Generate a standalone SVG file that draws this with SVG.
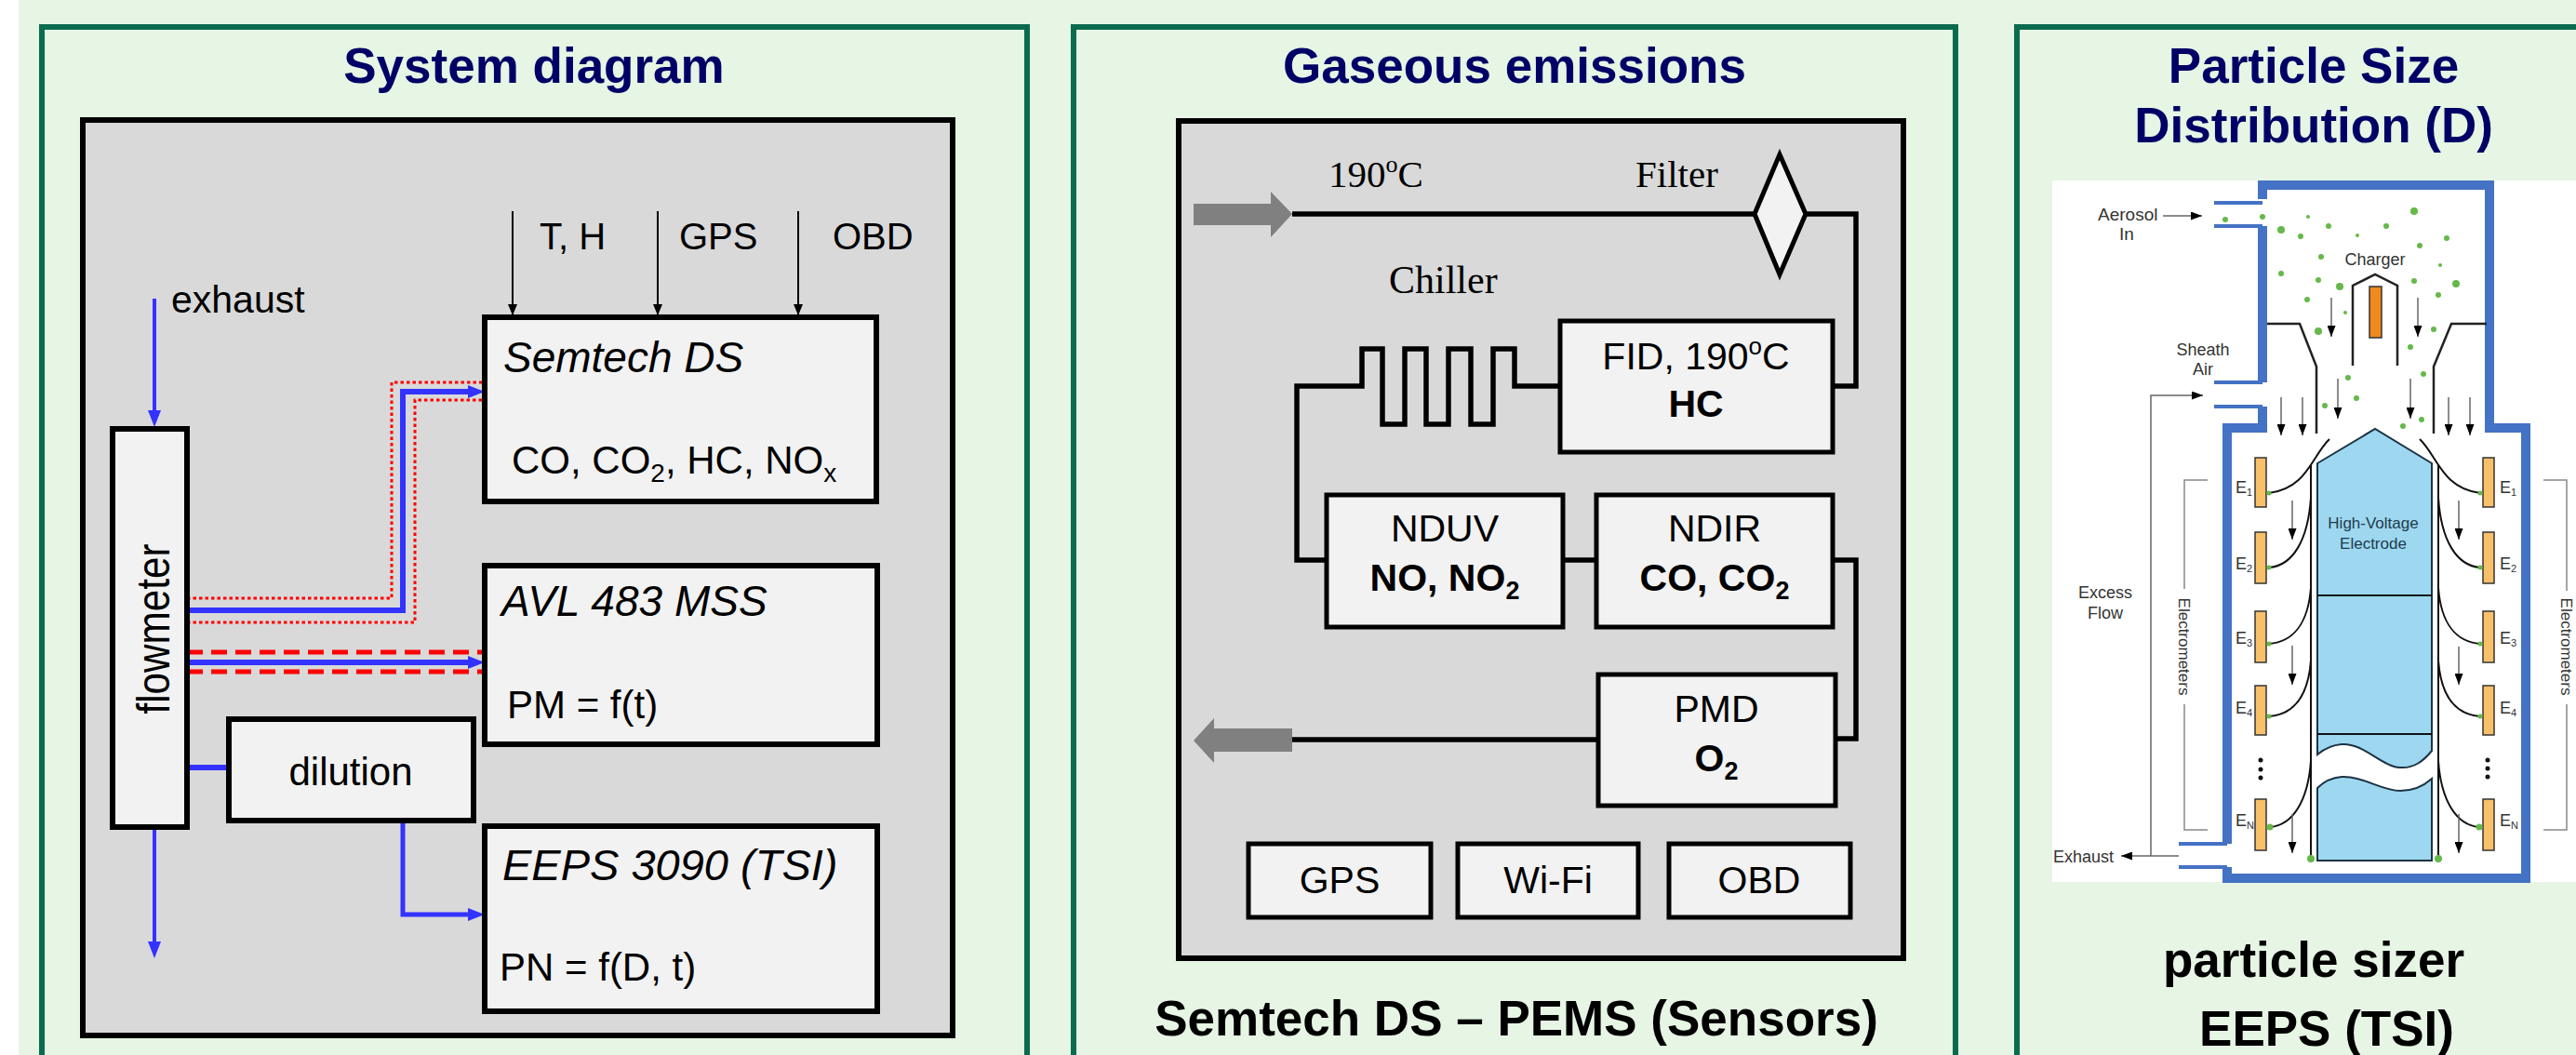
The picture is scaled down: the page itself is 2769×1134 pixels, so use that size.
<svg xmlns="http://www.w3.org/2000/svg" width="2769" height="1134" viewBox="0 0 2769 1134">
<defs>
<style>
.panel{fill:#E6F5E4;stroke:#0B6B4F;stroke-width:6}
.title{font-family:"Liberation Sans",Arial,sans-serif;font-weight:bold;font-size:53px;fill:#000066;text-anchor:middle}
.caption{font-family:"Liberation Sans",Arial,sans-serif;font-weight:bold;font-size:53px;fill:#000;text-anchor:middle}
.gbox{fill:#D9D9D9;stroke:#000;stroke-width:6}
.box{fill:#F2F2F2;stroke:#000;stroke-width:6}
.box5{fill:#F2F2F2;stroke:#000;stroke-width:5}
.s{font-family:"Liberation Sans",Arial,sans-serif;fill:#000}
.s42{font-size:42px}
.s41{font-size:41px}
.s40{font-size:40px}
.it{font-style:italic;font-size:46px}
.b{font-weight:bold}
.mid{text-anchor:middle}
.serif{font-family:"Liberation Serif","Times New Roman",serif;font-size:41px;fill:#000}
.bl6{stroke:#3333FF;stroke-width:6;fill:none}
.bl4{stroke:#3333FF;stroke-width:4;fill:none}
.dot{stroke:#FF0000;stroke-width:3;stroke-dasharray:3.5 3;fill:none}
.dash{stroke:#FF0000;stroke-width:5;stroke-dasharray:17 9;fill:none}
.thin{stroke:#000;stroke-width:2;fill:none}
.flow{stroke:#000;stroke-width:5.5;fill:none}
.garrow{fill:#808080}
.wall{stroke:#4472C4;stroke-width:10;fill:none}
.inlet{stroke:#4472C4;stroke-width:4;fill:none}
.fl{stroke:#222;stroke-width:2.5;fill:none}
.ga{stroke:#666;stroke-width:1.5;fill:none}
.tr{stroke:#111;stroke-width:2;fill:none}
.brk{stroke:#888;stroke-width:1.5;fill:none}
.pd{fill:#66B84A}
.el{fill:#F9C06A;stroke:#333;stroke-width:1.5}
.hv{fill:#9DD8F0;stroke:#1D3345;stroke-width:2}
.lab{font-family:"Liberation Sans",Arial,sans-serif;font-size:18px;fill:#333}
.sub{font-size:11px}
</style>
<marker id="mk" markerUnits="userSpaceOnUse" markerWidth="12" markerHeight="10" refX="12" refY="5" orient="auto"><path d="M0,0 L12,5 L0,10 z" fill="#000"/></marker>
<marker id="mb" markerUnits="userSpaceOnUse" markerWidth="18" markerHeight="14" refX="10" refY="7" orient="auto"><path d="M0,0 L18,7 L0,14 z" fill="#3333FF"/></marker>
<marker id="ms" markerUnits="userSpaceOnUse" markerWidth="12" markerHeight="9" refX="12" refY="4.5" orient="auto"><path d="M0,0 L12,4.5 L0,9 z" fill="#000"/></marker>
</defs>

<rect x="0" y="0" width="2769" height="1134" fill="#E6F5E4"/>
<rect x="0" y="0" width="20" height="1134" fill="#FFFFFF"/>

<!-- Panel 1 -->
<g id="panel-system">
<rect class="panel" x="45" y="29" width="1059" height="1200"/>
<text class="title" x="574" y="89">System diagram</text>
<rect class="gbox" x="89" y="129" width="935" height="984"/>
</g>

<!-- Panel 2 -->
<g id="panel-gas">
<rect class="panel" x="1154" y="29" width="948" height="1200"/>
<text class="title" x="1628" y="89">Gaseous emissions</text>
<rect class="gbox" x="1267" y="130" width="779" height="900"/>
<text class="caption" x="1630" y="1113">Semtech DS – PEMS (Sensors)</text>
</g>

<!-- Panel 3 -->
<g id="panel-psd">
<rect class="panel" x="2168" y="29" width="700" height="1200"/>
<text class="title" x="2487" y="89">Particle Size</text>
<text class="title" x="2487" y="153">Distribution (D)</text>
<text class="caption" x="2487" y="1050">particle sizer</text>
<text class="caption" x="2501" y="1124">EEPS (TSI)</text>
</g>

<!-- Connectors -->
<g id="connectors">
<path class="thin" d="M551,227 V339" marker-end="url(#mk)"/>
<path class="thin" d="M707,227 V339" marker-end="url(#mk)"/>
<path class="thin" d="M858,227 V339" marker-end="url(#mk)"/>
<path class="bl4" d="M166,321 V451" marker-end="url(#mb)"/>
<path class="dot" d="M201,643 H421 V411 H518"/>
<path class="dot" d="M201,669 H446 V430 H518"/>
<path class="bl6" d="M201,656 H433 V421 H513" marker-end="url(#mb)"/>
<path class="dash" d="M201,701 H521"/>
<path class="dash" d="M201,722 H521"/>
<path class="bl6" d="M201,712 H513" marker-end="url(#mb)"/>
<path class="bl6" d="M201,825 H246"/>
<path class="bl4" d="M433,882 V983 H513" style="stroke-width:5" marker-end="url(#mb)"/>
<path class="bl4" d="M166,889 V1022" marker-end="url(#mb)"/>

<polygon class="garrow" points="1283,219 1366,219 1366,206 1389,230 1366,255 1366,242 1283,242"/>
<path class="flow" d="M1389,230 H1886"/>
<path class="flow" d="M1941,230 H1995 V415 H1970"/>
<path class="flow" d="M1677,415 H1628 V375 H1605 V456 H1581 V375 H1557 V456 H1533 V375 H1510 V456 H1486 V375 H1464 V415 H1394 V602 H1426"/>
<path class="flow" d="M1680,602 H1716"/>
<path class="flow" d="M1970,602 H1995 V794 H1973"/>
<path class="flow" d="M1718,795 H1389"/>
<polygon class="garrow" points="1389,783 1305,783 1305,772 1283,796 1305,820 1305,808 1389,808"/>
</g>

<!-- Panel 1 nodes -->
<g id="node-sensors">
<text class="s s40" x="580" y="268">T, H</text>
<text class="s s40" x="730" y="268">GPS</text>
<text class="s s40" x="895" y="268">OBD</text>
<text class="s" font-size="41" x="184" y="336">exhaust</text>
</g>
<g id="node-semtech">
<rect class="box" x="521" y="341" width="421" height="198"/>
<text class="s it" x="541" y="400">Semtech DS</text>
<text class="s s42" x="550" y="509">CO, CO<tspan font-size="28" dy="9">2</tspan><tspan dy="-9">, HC, NO</tspan><tspan font-size="28" dy="9">x</tspan></text>
</g>
<g id="node-flowmeter">
<rect class="box" x="121" y="461" width="80" height="428"/>
<text class="s mid" font-size="50" transform="translate(182,676) rotate(-90)" textLength="183" lengthAdjust="spacingAndGlyphs">flowmeter</text>
</g>
<g id="node-avl">
<rect class="box" x="521" y="608" width="422" height="192"/>
<text class="s it" x="539" y="662">AVL 483 MSS</text>
<text class="s s42" x="545" y="772">PM = f(t)</text>
</g>
<g id="node-dilution">
<rect class="box" x="246" y="773" width="263" height="109"/>
<text class="s s42 mid" x="377" y="844">dilution</text>
</g>
<g id="node-eeps">
<rect class="box" x="521" y="888" width="422" height="199"/>
<text class="s it" font-size="47" x="540" y="946" style="font-size:47px">EEPS 3090 (TSI)</text>
<text class="s s42" x="537" y="1054">PN = f(D, t)</text>
</g>

<!-- Panel 2 nodes -->
<g id="node-labels-gas">
<text class="serif" x="1428" y="201">190<tspan font-size="26" dy="-16">o</tspan><tspan dy="16">C</tspan></text>
<text class="serif" x="1758" y="201">Filter</text>
<text class="serif" x="1493" y="315" style="font-size:42px">Chiller</text>
</g>
<g id="node-filter">
<polygon points="1913,166 1941,230 1913,295 1886,230" fill="#F2F2F2" stroke="#000" stroke-width="5"/>
</g>
<g id="node-fid">
<rect class="box5" x="1677" y="345" width="293" height="141"/>
<text class="s s41 mid" x="1823" y="397">FID, 190<tspan font-size="26" dy="-16">o</tspan><tspan dy="16">C</tspan></text>
<text class="s s41 mid b" x="1823" y="448">HC</text>
</g>
<g id="node-nduv">
<rect class="box5" x="1426" y="532" width="254" height="142"/>
<text class="s s41 mid" x="1553" y="582">NDUV</text>
<text class="s s41 mid b" x="1553" y="635">NO, NO<tspan font-size="27" dy="9">2</tspan></text>
</g>
<g id="node-ndir">
<rect class="box5" x="1716" y="532" width="254" height="142"/>
<text class="s s41 mid" x="1843" y="582">NDIR</text>
<text class="s s41 mid b" x="1843" y="635">CO, CO<tspan font-size="27" dy="9">2</tspan></text>
</g>
<g id="node-pmd">
<rect class="box5" x="1718" y="725" width="255" height="141"/>
<text class="s s41 mid" x="1845" y="776">PMD</text>
<text class="s s41 mid b" x="1845" y="829">O<tspan font-size="27" dy="9">2</tspan></text>
</g>
<g id="node-gps">
<rect class="box5" x="1342" y="907" width="196" height="79"/>
<text class="s s41 mid" x="1440" y="960">GPS</text>
</g>
<g id="node-wifi">
<rect class="box5" x="1567" y="907" width="194" height="79"/>
<text class="s s41 mid" x="1664" y="960">Wi-Fi</text>
</g>
<g id="node-obd">
<rect class="box5" x="1794" y="907" width="195" height="79"/>
<text class="s s41 mid" x="1891" y="960">OBD</text>
</g>

<!-- Panel 3 schematic -->
<g id="eeps-schematic">
<rect x="2206" y="194" width="563" height="754" fill="#FFFFFF"/>
<!-- electrode -->
<path class="hv" d="M2491,498 L2553,461 L2614,498 V807 C2605,818 2595,826 2580,825 C2560,824 2540,798 2517,800 C2505,801 2497,806 2491,811 Z"/>
<path class="hv" d="M2491,847 C2497,841 2505,836 2517,835 C2540,834 2560,850 2580,850 C2595,850 2605,845 2614,837 V925 H2491 Z"/>
<path class="tr" d="M2491,640 H2614 M2491,789 H2614"/>
<text class="lab mid" x="2551" y="568" style="fill:#1F3B4D;font-size:17px">High-Voltage</text>
<text class="lab mid" x="2551" y="590" style="fill:#1F3B4D;font-size:17px">Electrode</text>
<!-- walls -->
<path class="wall" d="M2432,214 V199 H2676 V460 H2715 V944 H2394 V932"/>
<path class="wall" d="M2432,243 V411"/>
<path class="wall" d="M2432,437 V460 H2394 V907"/>
<path class="inlet" d="M2380,218 H2432 M2380,243 H2432 M2380,411 H2432 M2380,437 H2432 M2342,907 H2394 M2342,932 H2394"/>
<!-- funnel & charger -->
<path class="fl" d="M2437,348 H2472 L2490,394 V466"/>
<path class="fl" d="M2673,348 H2635 L2616,394 V466"/>
<path class="fl" d="M2529,393 V307 L2553,295 L2577,307 V393"/>
<rect x="2547" y="308" width="13" height="55" fill="#F08A1C" stroke="#333" stroke-width="1.5"/>
<text class="lab mid" x="2553" y="285">Charger</text>
<!-- trajectories -->
<path class="tr" d="M2484,500 V923 M2621,500 V923"/>
<path class="tr" d="M2601,472 C2620,490 2625,525 2666,530 M2621,535 C2624,580 2640,608 2666,610 M2621,632 C2624,670 2640,690 2666,692 M2621,710 C2624,750 2640,768 2666,770 M2621,818 C2624,860 2640,887 2665,889"/>
<path class="tr" d="M2504,472 C2485,490 2480,525 2439,530 M2484,535 C2481,580 2465,608 2439,610 M2484,632 C2481,670 2465,690 2439,692 M2484,710 C2481,750 2465,768 2439,770 M2484,818 C2481,860 2465,887 2440,889"/>
<!-- electrometer bars -->
<rect class="el" x="2669" y="492" width="12" height="53"/>
<rect class="el" x="2669" y="572" width="12" height="55"/>
<rect class="el" x="2669" y="657" width="12" height="55"/>
<rect class="el" x="2669" y="737" width="12" height="53"/>
<rect class="el" x="2669" y="859" width="12" height="55"/>
<rect class="el" x="2424" y="492" width="12" height="53"/>
<rect class="el" x="2424" y="572" width="12" height="55"/>
<rect class="el" x="2424" y="657" width="12" height="55"/>
<rect class="el" x="2424" y="737" width="12" height="53"/>
<rect class="el" x="2424" y="859" width="12" height="55"/>
<text class="lab" x="2403" y="530">E<tspan class="sub" dy="3">1</tspan></text>
<text class="lab" x="2403" y="612">E<tspan class="sub" dy="3">2</tspan></text>
<text class="lab" x="2403" y="692">E<tspan class="sub" dy="3">3</tspan></text>
<text class="lab" x="2403" y="767">E<tspan class="sub" dy="3">4</tspan></text>
<text class="lab" x="2403" y="888">E<tspan class="sub" dy="3">N</tspan></text>
<text class="lab" x="2687" y="530">E<tspan class="sub" dy="3">1</tspan></text>
<text class="lab" x="2687" y="612">E<tspan class="sub" dy="3">2</tspan></text>
<text class="lab" x="2687" y="692">E<tspan class="sub" dy="3">3</tspan></text>
<text class="lab" x="2687" y="767">E<tspan class="sub" dy="3">4</tspan></text>
<text class="lab" x="2687" y="888">E<tspan class="sub" dy="3">N</tspan></text>
<g fill="#111">
<circle cx="2430" cy="817" r="2.5"/><circle cx="2430" cy="827" r="2.5"/><circle cx="2430" cy="836" r="2.5"/>
<circle cx="2674" cy="817" r="2.5"/><circle cx="2674" cy="826" r="2.5"/><circle cx="2674" cy="835" r="2.5"/>
</g>
<!-- flow arrows -->
<g class="ga">
<path d="M2506,320 V362" marker-end="url(#ms)"/>
<path d="M2599,320 V362" marker-end="url(#ms)"/>
<path d="M2513,407 V450" marker-end="url(#ms)"/>
<path d="M2591,407 V450" marker-end="url(#ms)"/>
<path d="M2452,427 V468" marker-end="url(#ms)"/>
<path d="M2475,427 V468" marker-end="url(#ms)"/>
<path d="M2632,427 V468" marker-end="url(#ms)"/>
<path d="M2655,427 V468" marker-end="url(#ms)"/>
<path d="M2464,538 V580" marker-end="url(#ms)"/>
<path d="M2464,694 V736" marker-end="url(#ms)"/>
<path d="M2464,875 V917" marker-end="url(#ms)"/>
<path d="M2643,538 V580" marker-end="url(#ms)"/>
<path d="M2643,695 V736" marker-end="url(#ms)"/>
<path d="M2643,875 V917" marker-end="url(#ms)"/>
<path d="M2325,232 H2367" marker-end="url(#ms)"/>
<path d="M2312,920 V425 H2368" marker-end="url(#ms)"/>
<path d="M2342,920 H2280" marker-end="url(#ms)"/>
</g>
<!-- particles -->
<g class="pd">
<circle cx="2392" cy="236" r="3"/><circle cx="2432" cy="233" r="3"/><circle cx="2481" cy="233" r="2"/>
<circle cx="2452" cy="247" r="4"/><circle cx="2473" cy="254" r="3"/><circle cx="2503" cy="243" r="3"/>
<circle cx="2534" cy="253" r="2"/><circle cx="2565" cy="243" r="3"/><circle cx="2595" cy="227" r="4"/>
<circle cx="2630" cy="256" r="3"/><circle cx="2601" cy="264" r="3"/><circle cx="2495" cy="276" r="3"/>
<circle cx="2623" cy="285" r="2"/><circle cx="2452" cy="294" r="3"/><circle cx="2492" cy="301" r="3"/>
<circle cx="2515" cy="308" r="4"/><circle cx="2595" cy="302" r="3"/><circle cx="2640" cy="305" r="4"/>
<circle cx="2621" cy="317" r="3"/><circle cx="2480" cy="322" r="3"/><circle cx="2521" cy="336" r="2"/>
<circle cx="2492" cy="356" r="4"/><circle cx="2616" cy="354" r="3"/><circle cx="2591" cy="373" r="3"/>
<circle cx="2524" cy="406" r="3"/><circle cx="2605" cy="402" r="3"/><circle cx="2533" cy="428" r="3"/>
<circle cx="2499" cy="436" r="3"/><circle cx="2583" cy="458" r="3"/><circle cx="2603" cy="451" r="3"/>
<circle cx="2666" cy="530" r="2.5"/><circle cx="2666" cy="610" r="2.5"/><circle cx="2666" cy="692" r="2.5"/><circle cx="2666" cy="770" r="2.5"/><circle cx="2665" cy="889" r="3.5"/>
<circle cx="2439" cy="530" r="2.5"/><circle cx="2439" cy="610" r="2.5"/><circle cx="2439" cy="692" r="2.5"/><circle cx="2439" cy="770" r="2.5"/><circle cx="2440" cy="889" r="3.5"/>
<circle cx="2484" cy="923" r="4"/><circle cx="2621" cy="923" r="4"/>
</g>
<!-- brackets and labels -->
<path class="brk" d="M2373,516 H2348 V633 M2348,757 V892 H2373"/>
<path class="brk" d="M2734,516 H2759 V635 M2759,757 V892 H2734"/>
<text class="lab mid" font-size="17" style="font-size:17px" transform="translate(2342,695) rotate(90)">Electrometers</text>
<text class="lab mid" style="font-size:17px" transform="translate(2753,695) rotate(90)">Electrometers</text>
<text class="lab" x="2255" y="237" style="font-size:19px">Aerosol</text>
<text class="lab mid" x="2286" y="258" style="font-size:19px">In</text>
<text class="lab mid" x="2368" y="382">Sheath</text>
<text class="lab mid" x="2368" y="403">Air</text>
<text class="lab mid" x="2263" y="643">Excess</text>
<text class="lab mid" x="2263" y="665">Flow</text>
<text class="lab" x="2207" y="927">Exhaust</text>
</g>
</svg>
